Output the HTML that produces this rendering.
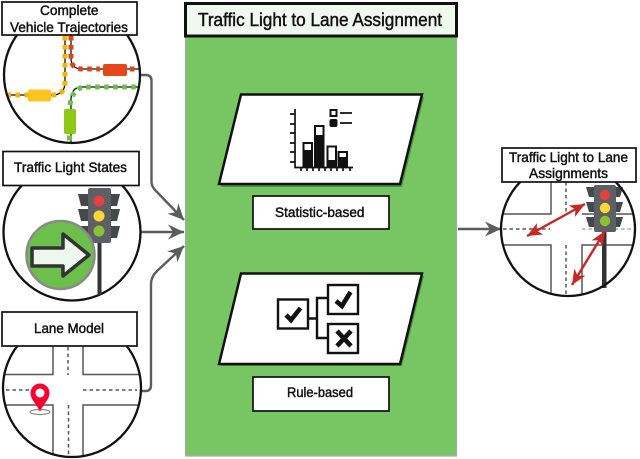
<!DOCTYPE html>
<html><head><meta charset="utf-8"><style>
html,body{margin:0;padding:0;background:#fff;width:640px;height:459px;overflow:hidden}
svg{display:block;filter:blur(.3px)}
text{font-family:"Liberation Sans",sans-serif;fill:#111;stroke:#111;stroke-width:.45;text-anchor:start}
</style></head><body>
<svg width="640" height="459" viewBox="0 0 640 459" xmlns="http://www.w3.org/2000/svg">
<defs>
<clipPath id="c1"><circle cx="72" cy="75" r="68"/></clipPath>
<clipPath id="c3"><circle cx="72" cy="388" r="69"/></clipPath>
<clipPath id="c4"><circle cx="568" cy="229" r="67"/></clipPath>
<marker id="ga" markerUnits="userSpaceOnUse" markerWidth="20" markerHeight="18" refX="17" refY="9" orient="auto"><path d="M17,9 L1,1.500 L6,9 L1,16.500 Z" fill="#5c5c5c"/></marker>
<marker id="re" markerUnits="userSpaceOnUse" markerWidth="18" markerHeight="16" refX="16" refY="8" orient="auto"><path d="M16,8 L1,1.500 L5,8 L1,14.500 Z" fill="#c62828"/></marker>
<marker id="rs" markerUnits="userSpaceOnUse" markerWidth="18" markerHeight="16" refX="2" refY="8" orient="auto"><path d="M2,8 L17,1.500 L13,8 L17,14.500 Z" fill="#c62828"/></marker>
</defs>

<!-- connectors -->
<g fill="none" stroke="#5c5c5c" stroke-width="2.400">
<path d="M140,75 H146 Q151.500,75 151.500,81 V182 Q151.500,187 157,192 L184,220" marker-end="url(#ga)"/>
<path d="M140,232 H184" marker-end="url(#ga)"/>
<path d="M140,391 H146 Q151,391 151,385 V284 Q151,277 157,271 L184,246" marker-end="url(#ga)"/>
<path d="M458,229 H501" marker-end="url(#ga)"/>
</g>

<!-- main panel -->
<rect x="185.500" y="30" width="271" height="426" fill="#78c563" stroke="#a8a8a8" stroke-width="1.200"/>
<rect x="185.500" y="3.500" width="271" height="32.500" fill="#f1f8f0" stroke="#111" stroke-width="3"/>
<text x="198" y="26" font-size="18" textLength="244" lengthAdjust="spacingAndGlyphs">Traffic Light to Lane Assignment</text>

<!-- parallelogram 1 -->
<polygon points="243,97 424,97 402,187 221,187" fill="#4f9142"/>
<polygon points="241,94.500 422,94.500 400,184 219,184" fill="#fff" stroke="#111" stroke-width="2.500"/>
<g stroke="#111" stroke-width="1.700" fill="none">
<path d="M295,109 V167.500 H353"/>
<path d="M290,114 H295 M290,124 H295 M290,133 H295 M290,143 H295 M290,152 H295 M290,162 H295"/>
<path d="M301,167 V171 M307,167 V171 M313,167 V171 M319,167 V171 M325,167 V171 M331,167 V171 M337,167 V171 M343,167 V171 M350,167 V171"/>
<path d="M340,113 H352 M340,123 H352"/>
</g>
<g stroke="#111" stroke-width="2">
<rect x="303.500" y="143" width="8.500" height="24" fill="#fff"/><rect x="303.500" y="151" width="8.500" height="16" fill="#111"/>
<rect x="315" y="126" width="8.500" height="41" fill="#fff"/><rect x="315" y="136" width="8.500" height="31" fill="#111"/>
<rect x="327.500" y="146.500" width="8.500" height="20.500" fill="#fff"/><rect x="327.500" y="161" width="8.500" height="6" fill="#111"/>
<rect x="338.500" y="152" width="8.500" height="15" fill="#fff"/><rect x="338.500" y="158" width="8.500" height="9" fill="#111"/>
<rect x="330.500" y="110" width="6" height="6" fill="#fff"/>
<rect x="330.500" y="120" width="6" height="6" rx="1" fill="#111"/>
</g>
<rect x="253" y="196" width="136" height="33" fill="#fff" stroke="#111" stroke-width="1.700"/>
<text x="275" y="217" font-size="14" textLength="89.500" lengthAdjust="spacingAndGlyphs">Statistic-based</text>

<!-- parallelogram 2 -->
<polygon points="243,276 424,276 402,366 221,366" fill="#4f9142"/>
<polygon points="241,273.500 422,273.500 400,364 219,364" fill="#fff" stroke="#111" stroke-width="2.500"/>
<g fill="#fff" stroke="#111" stroke-width="2.400">
<rect x="278" y="299.500" width="30" height="29"/>
<rect x="328" y="285" width="30" height="29"/>
<rect x="328" y="324" width="30" height="29"/>
</g>
<path d="M308,318.500 H317 M328,298 H317 V338 H328" fill="none" stroke="#111" stroke-width="2.400"/>
<g fill="none" stroke="#111" stroke-width="4.600">
<path d="M286,315 L291,320 L300.500,308"/>
<path d="M336,301 L342,306 L350.500,292"/>
<path d="M337,331 L351,346 M351,331 L337,346"/>
</g>
<rect x="253" y="377" width="136" height="34" fill="#fff" stroke="#111" stroke-width="1.700"/>
<text x="287" y="397" font-size="14" textLength="66" lengthAdjust="spacingAndGlyphs">Rule-based</text>

<!-- circle 1 -->
<circle cx="72" cy="75" r="68" fill="#fff"/>
<g clip-path="url(#c1)" fill="none">
<g stroke="#111" stroke-width="1.300">
<path d="M65,30 V82 Q65,95 52,95 H4"/>
<path d="M71,30 V58 Q71,69 82,69 H140"/>
<path d="M71,145 V100 Q71,87 82,87 H138"/>
</g>
<path d="M65,36 V82 Q65,95 52,95 H8" stroke="#ffb300" stroke-width="5" stroke-dasharray="4.500 4.500"/>
<path d="M71,36 V58 Q71,69 82,69 H100" stroke="#df4316" stroke-width="5" stroke-dasharray="4.500 4.500"/>
<path d="M130,69 H134.500" stroke="#df4316" stroke-width="5"/>
<path d="M67,138 H72" stroke="#6cbf4b" stroke-width="5"/>
<path d="M70,105 Q71,92 82,87 H136" stroke="#6cbf4b" stroke-width="5" stroke-dasharray="4.500 4.500"/>
<rect x="103" y="64" width="24" height="12" rx="2" fill="#e5461a"/>
<rect x="28" y="89.500" width="23" height="12" rx="2" fill="#ffc41f"/>
<rect x="64" y="109" width="12" height="25" rx="2" fill="#8dc914"/>
</g>
<circle cx="72" cy="75" r="68" fill="none" stroke="#111" stroke-width="2.300"/>
<rect x="2" y="2" width="135" height="33" fill="#fff" stroke="#111" stroke-width="1.700"/>
<text x="40" y="15" font-size="14" textLength="58.500" lengthAdjust="spacingAndGlyphs">Complete</text>
<text x="10" y="32" font-size="14" textLength="118" lengthAdjust="spacingAndGlyphs">Vehicle Trajectories</text>

<!-- circle 2 -->
<circle cx="72" cy="232" r="68.500" fill="#fff" stroke="#111" stroke-width="2.300"/>
<rect x="97.500" y="240" width="4" height="55" fill="#333"/>
<g fill="#45494c">
<polygon points="78,194 88,194 88,206 81,206"/><polygon points="78,209 88,209 88,221 81,221"/><polygon points="78,226 88,226 88,238 81,238"/>
<polygon points="120,194 111,194 111,206 117,206"/><polygon points="120,209 111,209 111,221 117,221"/><polygon points="120,226 111,226 111,238 117,238"/>
</g>
<rect x="88" y="188" width="23" height="55" rx="2" fill="#5c6064"/>
<circle cx="99" cy="201" r="5.500" fill="#e53f3f"/>
<circle cx="99" cy="216" r="5.500" fill="#fdd835"/>
<circle cx="99" cy="231" r="5.500" fill="#8bc22f"/>
<circle cx="60.500" cy="255" r="34" fill="#6cbf4b" stroke="#8a8a8a" stroke-width="2.500"/>
<polygon points="32,248 63,248 63,234 89,255 63,276 63,266 32,266" fill="#eef7ee" stroke="#333" stroke-width="3.500" stroke-linejoin="round"/>
<rect x="3" y="151.500" width="136" height="34" fill="#fff" stroke="#111" stroke-width="1.700"/>
<text x="14" y="172" font-size="14" textLength="113" lengthAdjust="spacingAndGlyphs">Traffic Light States</text>

<!-- circle 3 -->
<circle cx="72" cy="388" r="69" fill="#fff"/>
<g clip-path="url(#c3)" fill="none" stroke="#555" stroke-width="1.500">
<path d="M53,345 V374.500 H3 M83,345 V374.500 H141 M3,405 H53 V460 M141,405 H83 V460"/>
<g stroke-dasharray="3.500 3">
<path d="M6,390 H50 M83,390 H137 M68,347 V375 M68.500,405 V458"/>
</g>
</g>
<ellipse cx="40" cy="412" rx="10" ry="2.500" fill="none" stroke="#777" stroke-width="1"/>
<path d="M40,412 C37,404 30.500,400 30.500,393 A9.500,9.500 0 0 1 49.500,393 C49.500,400 43,404 40,412 Z" fill="#f5002f"/>
<circle cx="40" cy="393" r="4.500" fill="#fff"/>
<circle cx="72" cy="388" r="69" fill="none" stroke="#111" stroke-width="2.300"/>
<rect x="2" y="312" width="135" height="34" fill="#fff" stroke="#111" stroke-width="1.700"/>
<text x="34" y="333" font-size="14" textLength="70" lengthAdjust="spacingAndGlyphs">Lane Model</text>

<!-- right circle -->
<circle cx="568" cy="229" r="67" fill="#fff"/>
<g clip-path="url(#c4)" fill="none" stroke="#555" stroke-width="1.500">
<path d="M551,178 V214 H500 M582,214 H640 M500,245 H551 V300 M640,245 H582 V300"/>
<path d="M503,229 H550 M566,182 V214 M566,245 V297" stroke-dasharray="3.500 3"/>
<path d="M582,229 H634" stroke="#aaa" stroke-dasharray="3.500 3"/>
</g>
<rect x="602" y="230" width="4.500" height="58" fill="#333"/>
<g fill="#45494c">
<polygon points="586,187 594,187 594,197 589,197"/><polygon points="586,202 594,202 594,212 589,212"/><polygon points="586,217 594,217 594,227 589,227"/>
<polygon points="623,187 616,187 616,197 620,197"/><polygon points="623,202 616,202 616,212 620,212"/><polygon points="623,217 616,217 616,227 620,227"/>
</g>
<rect x="594" y="185" width="22" height="47" rx="2" fill="#5c6064"/>
<circle cx="605" cy="195" r="5.200" fill="#e53f3f"/>
<circle cx="605" cy="208" r="5.200" fill="#fdd835"/>
<circle cx="605" cy="221" r="5.200" fill="#8bc22f"/>
<g stroke="#c62828" stroke-width="2.400" fill="none">
<path d="M527,236 L585,204" marker-start="url(#rs)" marker-end="url(#re)"/>
<path d="M605,231 L572,285" marker-start="url(#rs)" marker-end="url(#re)"/>
</g>
<circle cx="568" cy="229" r="67" fill="none" stroke="#111" stroke-width="2.300"/>
<rect x="502" y="148" width="134" height="34" fill="#fff" stroke="#111" stroke-width="1.700"/>
<text x="509" y="162" font-size="14" textLength="119" lengthAdjust="spacingAndGlyphs">Traffic Light to Lane</text>
<text x="529" y="178" font-size="14" textLength="79" lengthAdjust="spacingAndGlyphs">Assignments</text>
</svg>
</body></html>
